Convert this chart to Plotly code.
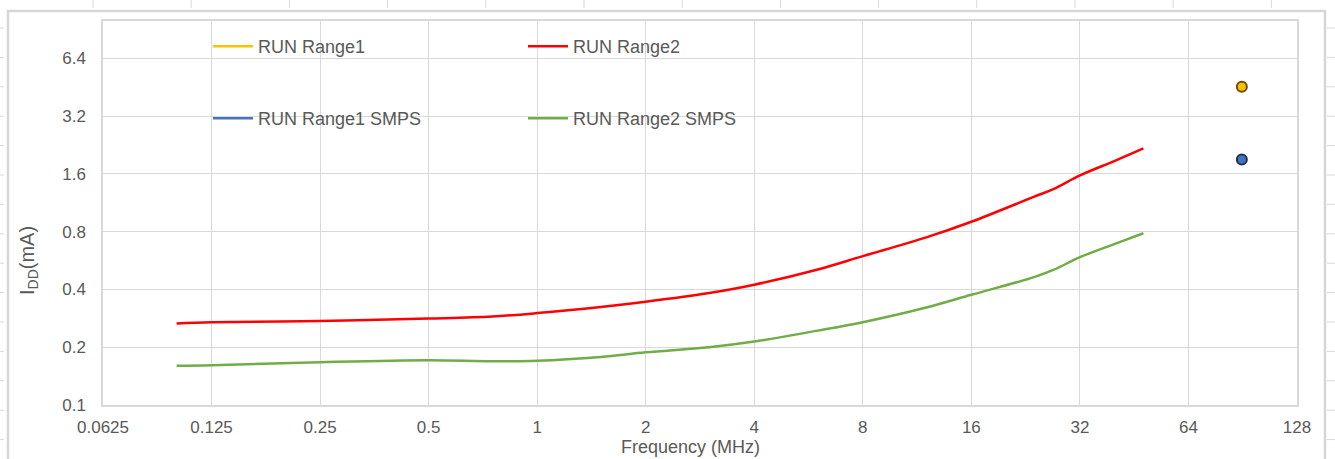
import plotly.graph_objects as go

# ---------------- data ----------------
freq_mhz = [0.1, 0.125, 0.25, 0.5, 0.75, 1, 1.5, 2, 3, 4, 6, 8, 12, 16, 24, 27, 32, 40, 48]
run_range2 = [0.266, 0.270, 0.274, 0.282, 0.289, 0.301, 0.324, 0.345, 0.383, 0.423,
              0.508, 0.596, 0.746, 0.900, 1.22, 1.33, 1.57, 1.87, 2.17]
run_range2_smps = [0.160, 0.161, 0.167, 0.171, 0.169, 0.170, 0.178, 0.188, 0.200, 0.214,
                   0.244, 0.270, 0.322, 0.375, 0.465, 0.505, 0.589, 0.691, 0.784]

range1_freq = [90]
run_range1 = [4.55]
run_range1_smps = [1.9]

x_ticks = [0.0625, 0.125, 0.25, 0.5, 1, 2, 4, 8, 16, 32, 64, 128]
x_tick_text = ["0.0625", "0.125", "0.25", "0.5", "1", "2", "4", "8", "16", "32", "64", "128"]
y_ticks = [0.1, 0.2, 0.4, 0.8, 1.6, 3.2, 6.4]
y_tick_text = ["0.1", "0.2", "0.4", "0.8", "1.6", "3.2", "6.4"]

# ---------------- layout geometry ----------------
W, H = 1335, 459
ML, MR, MT, MB = 103, 38, 21, 54
PW, PH = W - ML - MR, H - MT - MB
FONT = "Liberation Sans, Arial, sans-serif"
GREY_TXT = "#595959"
GRID = "#d9d9d9"


def px_x(px):
    return (px - ML) / PW


def px_y(py):
    return (H - MB - py) / PH


fig = go.Figure()

# legend-only entries for the single-point series
fig.add_trace(go.Scatter(x=[None], y=[None], mode="lines", name="RUN Range1",
                         line=dict(color="#FFC000", width=2.5), legend="legend"))
fig.add_trace(go.Scatter(x=freq_mhz, y=run_range2, mode="lines", name="RUN Range2",
                         line=dict(color="#FF0000", width=2.5, shape="spline", smoothing=1.0),
                         legend="legend2"))
fig.add_trace(go.Scatter(x=[None], y=[None], mode="lines", name="RUN Range1 SMPS",
                         line=dict(color="#4472C4", width=2.5), legend="legend3"))
fig.add_trace(go.Scatter(x=freq_mhz, y=run_range2_smps, mode="lines", name="RUN Range2 SMPS",
                         line=dict(color="#70AD47", width=2.5, shape="spline", smoothing=1.0),
                         legend="legend4"))

# single points
fig.add_trace(go.Scatter(x=range1_freq, y=run_range1, mode="markers", showlegend=False,
                         name="RUN Range1",
                         marker=dict(color="#FFC000", size=10, line=dict(color="#6B5000", width=2))))
fig.add_trace(go.Scatter(x=range1_freq, y=run_range1_smps, mode="markers", showlegend=False,
                         name="RUN Range1 SMPS",
                         marker=dict(color="#4472C4", size=10, line=dict(color="#1F3350", width=2))))

leg_font = dict(family=FONT, size=18, color=GREY_TXT)


def leg(px, py):
    return dict(x=px_x(px - 5), y=px_y(py), xref="paper", yref="paper",
                xanchor="left", yanchor="middle", bgcolor="rgba(0,0,0,0)",
                borderwidth=0, font=leg_font, itemwidth=40)


fig.update_layout(
    width=W, height=H,
    margin=dict(l=ML, r=MR, t=MT, b=MB, autoexpand=False),
    paper_bgcolor="white", plot_bgcolor="white",
    font=dict(family=FONT, color=GREY_TXT, size=17),
    legend=leg(213, 46.5),
    legend2=leg(528, 46.5),
    legend3=leg(213, 118.5),
    legend4=leg(528, 118.5),
    xaxis=dict(type="log", range=[-1.2041199827, 2.1072099696],
               tickmode="array", tickvals=x_ticks, ticktext=x_tick_text,
               showgrid=True, gridcolor=GRID, gridwidth=1.2,
               showline=True, linecolor=GRID, linewidth=1.5, mirror=True,
               ticks="", ticklabelstandoff=6, zeroline=False, tickangle=0,
               automargin=False,
               tickfont=dict(family=FONT, size=17, color=GREY_TXT)),
    yaxis=dict(type="log", range=[-1, 1],
               tickmode="array", tickvals=y_ticks, ticktext=y_tick_text,
               showgrid=True, gridcolor=GRID, gridwidth=1.2,
               showline=True, linecolor=GRID, linewidth=1.5, mirror=True,
               ticks="", ticklabelstandoff=12, zeroline=False, automargin=False,
               tickfont=dict(family=FONT, size=17, color=GREY_TXT)),
)

# axis titles
fig.add_annotation(text="Frequency (MHz)", x=px_x(690), y=px_y(447), xref="paper", yref="paper",
                   showarrow=False, xanchor="center", yanchor="middle",
                   font=dict(family=FONT, size=18, color=GREY_TXT))
fig.add_annotation(text="I<sub>DD</sub>(mA)", x=px_x(28), y=px_y(261), xref="paper", yref="paper",
                   showarrow=False, xanchor="center", yanchor="middle", textangle=-90,
                   font=dict(family=FONT, size=20, color=GREY_TXT))

# chart frame (decoration)
shapes = [dict(type="path", xref="paper", yref="paper",
               path=f"M {px_x(8)} {px_y(475)} L {px_x(8)} {px_y(11)} L {px_x(1325)} {px_y(11)} L {px_x(1325)} {px_y(475)}",
               line=dict(color="#d6d6d6", width=2.5))]
# sheet grid ticks peeking around the frame
k = 0
while 93 + 98.2 * k < W:
    xx = 93 + 98.2 * k
    shapes.append(dict(type="line", xref="paper", yref="paper",
                       x0=px_x(xx), x1=px_x(xx), y0=px_y(0), y1=px_y(8),
                       line=dict(color="#d9d9d9", width=1)))
    k += 1
k = 0
while 28 + 29.4 * k < H:
    yy = 28 + 29.4 * k
    shapes.append(dict(type="line", xref="paper", yref="paper",
                       x0=px_x(0), x1=px_x(4), y0=px_y(yy), y1=px_y(yy),
                       line=dict(color="#d9d9d9", width=1)))
    shapes.append(dict(type="line", xref="paper", yref="paper",
                       x0=px_x(1327), x1=px_x(1335), y0=px_y(yy), y1=px_y(yy),
                       line=dict(color="#d9d9d9", width=1)))
    k += 1
fig.update_layout(shapes=shapes)

fig.write_html("out.html")
